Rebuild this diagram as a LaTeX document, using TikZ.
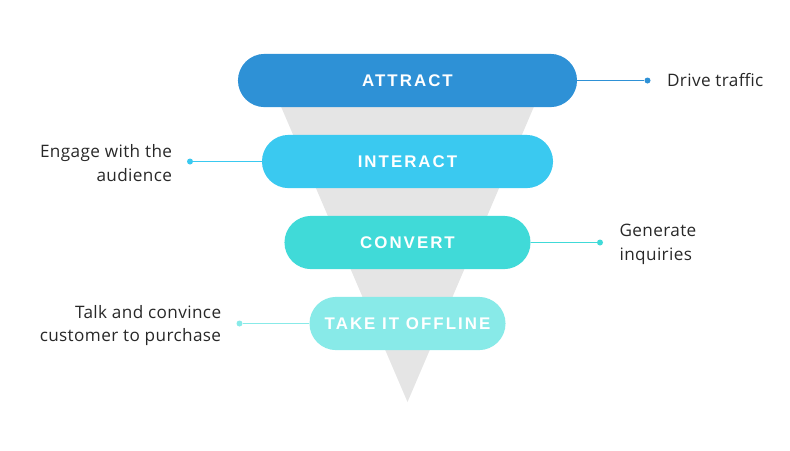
\documentclass[tikz,border=0pt]{standalone}
\usepackage{fontspec}
\setmainfont[LetterSpace=2.2]{Open Sans}
\newfontfamily\bandfont[LetterSpace=12]{Liberation Sans}
\usetikzlibrary{positioning}
\definecolor{attractc}{RGB}{46,145,214}
\definecolor{interactc}{RGB}{58,201,240}
\definecolor{convertc}{RGB}{64,218,216}
\definecolor{offlinec}{RGB}{136,234,232}
\definecolor{funnelgrey}{RGB}{229,229,229}
\definecolor{textgrey}{RGB}{40,40,40}

\begin{document}
\begin{tikzpicture}[
  x=0.025cm,y=-0.025cm,
  band/.style={rounded corners=0.665cm,minimum height=1.33cm,inner sep=0pt,
    text=white,font=\bandfont\bfseries\fontsize{12}{14}\selectfont},
  dot/.style={circle,inner sep=0pt,minimum size=0.15cm},
  link/.style={line width=1.1pt},
  lab/.style={inner sep=0pt,text=textgrey,font=\fontsize{12.2}{17}\selectfont}]
  \useasboundingbox (0,0) rectangle (790,450);
  % funnel behind the bands
  \fill[funnelgrey] (258.5,54) -- (556.5,54) -- (407.5,402) -- cycle;
  \node[band,fill=attractc,minimum width=8.475cm] (attract) at (407.5,80.5) {ATTRACT};
  \node[band,fill=interactc,minimum width=7.275cm] (interact) at (407.5,161.5) {INTERACT};
  \node[band,fill=convertc,minimum width=6.15cm] (convert) at (407.5,242.5) {CONVERT};
  \node[band,fill=offlinec,minimum width=4.9cm] (offline) at (407.5,323.5) {TAKE IT OFFLINE};
  \node[dot,fill=attractc] (d1) at (647.5,80.5) {};
  \node[dot,fill=interactc] (d2) at (190,161.5) {};
  \node[dot,fill=convertc] (d3) at (600,242.5) {};
  \node[dot,fill=offlinec] (d4) at (239.5,323.5) {};
  \node[lab,right=0.4cm of d1] (t1) {Drive traffic};
  \node[lab,align=right,left=0.36cm of d2,yshift=-0.05cm] (t2) {Engage with the\\audience};
  \node[lab,align=left,right=0.4cm of d3,yshift=-0.05cm] (t3) {Generate\\inquiries};
  \node[lab,align=right,left=0.37cm of d4,yshift=-0.05cm] (t4) {Talk and convince\\customer to purchase};
  \draw[link,attractc] (attract) -- (d1);
  \draw[link,interactc] (d2) -- (interact);
  \draw[link,convertc] (convert) -- (d3);
  \draw[link,offlinec] (d4) -- (offline);
\end{tikzpicture}
\end{document}
